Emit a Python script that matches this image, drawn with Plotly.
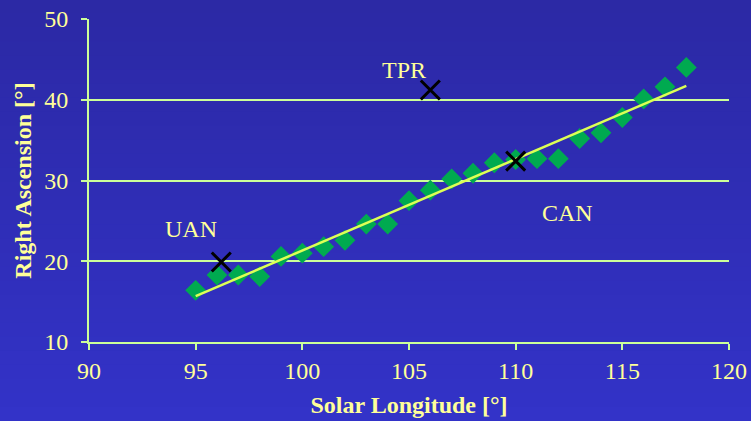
import numpy as np
import plotly.graph_objects as go

# Data
solar_longitude = [95, 96, 97, 98, 99, 100, 101, 102, 103, 104, 105, 106,
                   107, 108, 109, 110, 111, 112, 113, 114, 115, 116, 117, 118]
right_ascension = [16.4, 18.3, 18.3, 18.1, 20.6, 21.0, 21.8, 22.6, 24.6, 24.6, 27.5, 28.8,
                   30.2, 30.9, 32.2, 32.6, 32.7, 32.7, 35.2, 35.9, 37.8, 40.1, 41.6, 44.0]

station_names = ["UAN", "TPR", "CAN"]
station_x = [96.2, 106.0, 110.0]
station_y = [19.9, 41.2, 32.4]
label_x = [94.8, 104.75, 112.45]
label_y = [24.0, 43.7, 26.0]

# linear trend
coef = np.polyfit(solar_longitude, right_ascension, 1)
trend_x = [solar_longitude[0], solar_longitude[-1]]
trend_y = [float(np.polyval(coef, v)) for v in trend_x]

TXT = "#ffff99"
AX = "#ccff99"
FONT = "Liberation Serif, Times New Roman, serif"

fig = go.Figure()
fig.add_trace(go.Scatter(x=solar_longitude, y=right_ascension, mode="markers",
                         marker=dict(symbol="diamond", size=16, color="#00aa50",
                                     line=dict(width=0)),
                         showlegend=False, hoverinfo="skip"))
fig.add_trace(go.Scatter(x=trend_x, y=trend_y, mode="lines",
                         line=dict(color="#ddff55", width=2.5),
                         showlegend=False, hoverinfo="skip"))
fig.add_trace(go.Scatter(x=station_x, y=station_y, mode="markers",
                         marker=dict(symbol="x-thin", size=19, color="black",
                                     line=dict(width=3, color="black")),
                         showlegend=False, hoverinfo="skip"))

for n, lx, ly in zip(station_names, label_x, label_y):
    fig.add_annotation(x=lx, y=ly, text=n, showarrow=False,
                       font=dict(family=FONT, size=24, color=TXT))

# gradient background bands
top = np.array([0x2c, 0x29, 0xa5])
bot = np.array([0x33, 0x33, 0xc8])
nb = 30
shapes = []
y0p, y1p = -0.245, 1.062
for i in range(nb):
    f = i / (nb - 1)
    c = top + (bot - top) * f
    col = "rgb(%d,%d,%d)" % tuple(c.astype(int))
    ya = y1p - (y1p - y0p) * i / nb
    yb = y1p - (y1p - y0p) * (i + 1) / nb - 0.005
    shapes.append(dict(type="rect", xref="paper", yref="paper", x0=-0.2, x1=1.1,
                       y0=yb, y1=ya, fillcolor=col, line=dict(width=0), layer="below"))

fig.update_layout(
    width=751, height=421,
    margin=dict(l=89, r=22, t=19, b=79),
    paper_bgcolor="#3030b8",
    plot_bgcolor="rgba(0,0,0,0)",
    shapes=shapes,
    font=dict(family=FONT, color=TXT),
    xaxis=dict(range=[90, 120], dtick=5, tick0=90, showgrid=False, zeroline=False,
               automargin=False,
               showline=True, linecolor=AX, linewidth=2,
               ticks="outside", ticklen=6, tickwidth=2, tickcolor=AX,
               tickfont=dict(size=24, color=TXT, family=FONT),
               title=dict(text="<b>Solar Longitude [°]</b>",
                          font=dict(size=24, color=TXT, family=FONT), standoff=13)),
    yaxis=dict(range=[10, 50], dtick=10, tick0=10, showgrid=True, gridcolor=AX, gridwidth=2,
               automargin=False,
               zeroline=False, showline=True, linecolor=AX, linewidth=2,
               ticks="outside", ticklen=6, tickwidth=2, tickcolor=AX,
               ticklabelstandoff=8,
               tickfont=dict(size=24, color=TXT, family=FONT),
               title=dict(text="<b>Right Ascension [°]</b>",
                          font=dict(size=24, color=TXT, family=FONT), standoff=6)),
)

fig.write_html("out.html")
